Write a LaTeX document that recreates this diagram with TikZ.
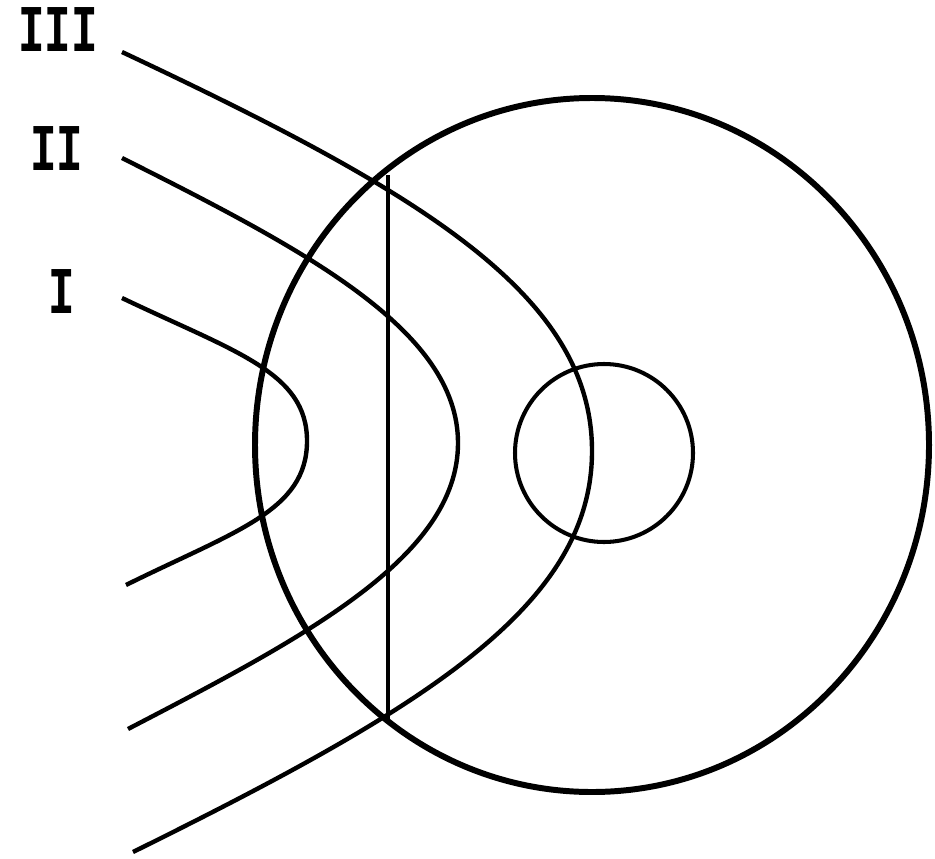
\documentclass[tikz,border=0pt]{standalone}
\usepackage{fontspec}
\usepackage{tikz}
\usetikzlibrary{positioning}
\newfontfamily\lblfont{Liberation Mono}

\begin{document}
\begin{tikzpicture}[
    x=0.02cm, y=-0.02cm,
    lbl/.style={inner sep=0pt, font=\lblfont\bfseries\fontsize{38}{40}\selectfont},
    rim/.style={line width=3.4pt},
    orbit/.style={line width=2.5pt},
    chord/.style={line width=2.3pt}
]
    \useasboundingbox (0,0) rectangle (935,858);

    % labels
    \node[lbl] (lblIII) at (58,30) {\scalebox{0.66}[1]{III}};
    \node[lbl] (lblII) at (57,149) {\scalebox{0.66}[1]{II}};
    \node[lbl] (lblI) at (62,292) {\scalebox{0.66}[1]{I}};

    % outer and inner circle
    \draw[rim] (592,445) ellipse [x radius=337, y radius=347];
    \draw[chord] (604,453) circle [radius=89];

    % chord
    \coordinate (ctop) at (388,175);
    \coordinate (cbot) at (388,720);
    \draw[chord] (ctop) -- (cbot);

    % curves
    \coordinate (s3) at (122,52);
    \coordinate (e3) at (133,852);
    \coordinate (s2) at (122,158);
    \coordinate (e2) at (128,729);
    \coordinate (s1) at (122,298);
    \coordinate (e1) at (126,585);

    \draw[orbit] (s3) .. controls (422,193) and (592,295) .. (592,451)
                      .. controls (592,607) and (422,709) .. (e3);
    \draw[orbit] (s2) .. controls (305,250) and (458,330) .. (458,443)
                      .. controls (458,557) and (305,637) .. (e2);
    \draw[orbit] (s1) .. controls (235,352) and (307,372) .. (307,441)
                      .. controls (307,511) and (235,531) .. (e1);
\end{tikzpicture}
\end{document}
